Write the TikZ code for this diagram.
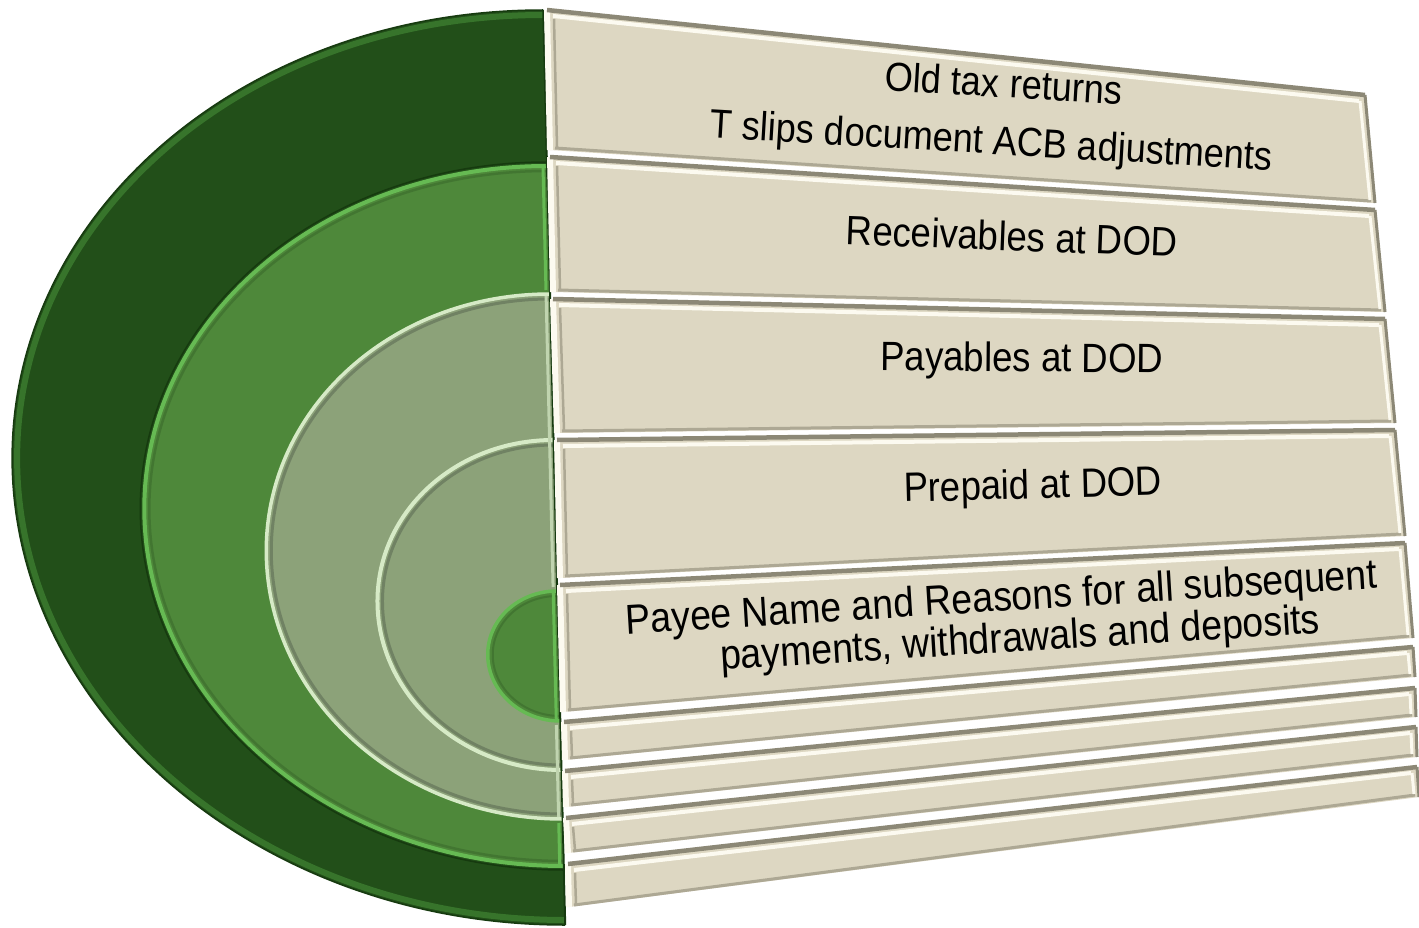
\documentclass[tikz,border=0pt]{standalone}
\usepackage{fontspec}
\setmainfont{Liberation Sans}
\usetikzlibrary{calc}
\definecolor{gDark}{HTML}{224F19}
\definecolor{gDarkRim}{HTML}{37742B}
\definecolor{gDarkEdge}{HTML}{163A0F}
\definecolor{gMid}{HTML}{4E883A}
\definecolor{gMidRim}{HTML}{66BA53}
\definecolor{gMidShade}{HTML}{3B6A2C}
\definecolor{gGrey}{HTML}{8CA279}
\definecolor{gGreyLight}{HTML}{D6EAC6}
\definecolor{gGreyShade}{HTML}{65755A}
\definecolor{beige}{HTML}{DDD7C2}
\definecolor{tileDark}{HTML}{8C8876}
\definecolor{tileLight}{HTML}{FCFAF0}
\definecolor{tileShade}{HTML}{ADA894}
\newcommand\mytile[8]{%
  \coordinate (tl) at (#1,#2);
  \coordinate (tr) at (#3,#4);
  \coordinate (br) at (#5,#6);
  \coordinate (bl) at (#7,#8);
  \fill[beige] (tl) -- (tr) -- (br) -- (bl) -- cycle;
  \draw[tileShade, line width=3] ([shift={(5,-2)}]bl) -- ([shift={(-4,-2)}]br);
  \draw[tileLight, line width=6] (bl) -- (tl);
  \draw[tileShade, line width=2.5] ([shift={(7,9)}]tl) -- ([shift={(7,-3)}]bl);
  \draw[tileDark, line width=4.5] (tl) -- (tr);
  \draw[tileLight, line width=4] ([shift={(6,6)}]tl) -- ([shift={(-6,6)}]tr);
  \draw[tileDark, line width=3] (tr) -- (br);
  \draw[tileLight, line width=3] ([shift={(-5,6)}]tr) -- ([shift={(-5,-3)}]br);
}
\tikzset{
  lbl/.style={font=\fontsize{36.6}{40}\selectfont, inner sep=0pt, yscale=1.12, text=black, align=center},
  lblbig/.style={lbl, font=\fontsize{37.4}{37}\selectfont}
}
\begin{document}
\begin{tikzpicture}[x=1pt,y=-1pt]
\useasboundingbox (0,0) rectangle (1419,928);
\fill[white] (0,0) rectangle (1419,928);
% nested half discs
\begin{scope}[xslant=-0.024]
  \fill[gDark] (543,10) arc[start angle=90,end angle=270,x radius=542pt,y radius=457.5pt] -- cycle;
  \draw[gDarkRim, line width=6] (543,15) arc[start angle=90,end angle=270,x radius=537pt,y radius=452.5pt];
  \draw[gDarkEdge, line width=1.5] (543,10) arc[start angle=90,end angle=270,x radius=542pt,y radius=457.5pt];
  % second
  \fill[gMid] (543,165) arc[start angle=90,end angle=270,x radius=412pt,y radius=351pt] -- cycle;
  \draw[gDarkEdge, line width=1.5] (543,162) arc[start angle=90,end angle=270,x radius=415pt,y radius=354pt];
  \draw[gMidRim, line width=4] (543,166) arc[start angle=90,end angle=270,x radius=411pt,y radius=350pt];
  \draw[gMidShade, line width=2.5, opacity=.6] (543,171) arc[start angle=90,end angle=270,x radius=406pt,y radius=345pt];
  % third
  \fill[gGrey] (543,293) arc[start angle=90,end angle=270,x radius=291pt,y radius=263.5pt] -- cycle;
  \draw[gGreyLight, line width=3.5] (543,294) arc[start angle=90,end angle=270,x radius=290pt,y radius=262.5pt];
  \draw[gGreyShade, line width=3, opacity=.7] (543,299) arc[start angle=90,end angle=270,x radius=285pt,y radius=257.5pt];
  % fourth ring
  \draw[gGreyLight, line width=4] (543,440) arc[start angle=90,end angle=270,x radius=180pt,y radius=165pt];
  \draw[gGreyShade, line width=3, opacity=.7] (543,445) arc[start angle=90,end angle=270,x radius=175pt,y radius=160pt];
  % innermost
  \fill[gMid] (543,590) arc[start angle=90,end angle=270,x radius=72pt,y radius=66pt] -- cycle;
  \draw[gMidRim, line width=3.5] (543,591) arc[start angle=90,end angle=270,x radius=71pt,y radius=65pt];
  \draw[gMidShade, line width=2, opacity=.6] (543,596) arc[start angle=90,end angle=270,x radius=66pt,y radius=60pt];
  % right edge bevels
  \draw[gMidRim, line width=3] (539,168) -- (539,290) (539,823) -- (539,864) (539,593) -- (539,719);
  \draw[gGreyLight!70!gGrey, line width=3] (539,296) -- (539,587) (539,725) -- (539,817);
  \draw[gDarkEdge, line width=2] (543,10) -- (543,925);
\end{scope}
% stacked tiles
\mytile{547}{10}{1365}{95}{1375}{203}{550}{150}
\mytile{550}{157}{1375}{210}{1385}{312}{553}{292}
\mytile{553}{299}{1385}{319}{1395}{423}{557}{433}
\mytile{557}{440}{1395}{430}{1405}{536}{560}{578}
\mytile{560}{585}{1405}{543}{1413}{638}{563}{712}
\mytile{564}{722}{1413}{647}{1415}{677}{565}{760}
\mytile{565}{771}{1415}{688}{1416}{717}{566}{807}
\mytile{566}{818}{1416}{727}{1417}{757}{568}{853}
\mytile{568}{864}{1417}{767}{1419}{797}{569}{907}
% labels
\node[rotate=-3.4, lbl, font=\fontsize{36.2}{51}\selectfont] (t1) at (993,115)
  {\hspace*{18pt}Old tax returns\\T slips document ACB adjustments};
\node[rotate=-2.2, lbl] (t2) at (1012,236) {Receivables at DOD};
\node[rotate=-0.5, lbl] (t3) at (1022,361) {Payables at DOD};
\node[rotate=1.5, lbl] (t4) at (1033,488) {Prepaid at DOD};
\node[rotate=3.5, lblbig] (t5) at (1003,621)
  {Payee Name and Reasons for all subsequent\\\hspace*{32pt}payments, withdrawals and deposits};
\end{tikzpicture}
\end{document}
